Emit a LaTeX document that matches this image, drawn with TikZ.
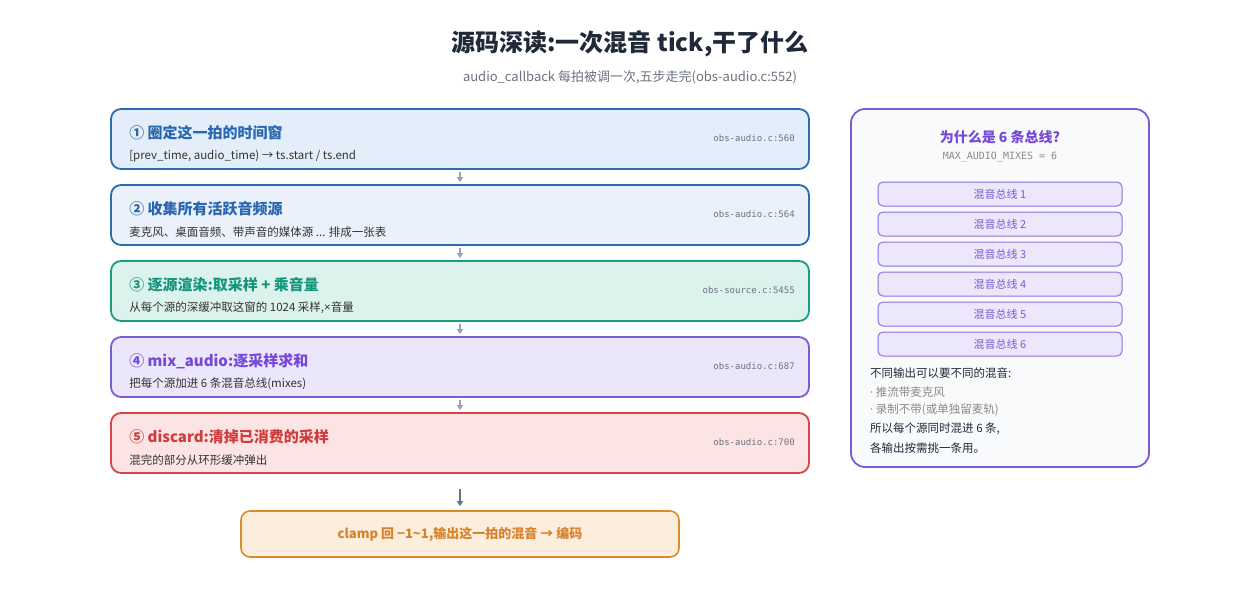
\documentclass[tikz,border=0pt]{standalone}
\usepackage{fontspec}
\setmainfont{Noto Sans CJK SC}
\newfontfamily\codefont{DejaVu Sans Mono}
\newfontfamily\latinfont{Noto Sans}
\usepackage{tikz}
\usetikzlibrary{shapes,arrows.meta}
\definecolor{inkdark}{HTML}{1F2937}
\definecolor{inkgray}{HTML}{6B7280}
\definecolor{inktext}{HTML}{333333}
\definecolor{inklight}{HTML}{8A8A8A}
\definecolor{arrowgray}{HTML}{94A3B8}
\definecolor{arrowdark}{HTML}{64748B}
\definecolor{blueline}{HTML}{2B6CB0}
\definecolor{bluetext}{HTML}{2866B0}
\definecolor{bluefill}{HTML}{E3EEFA}
\definecolor{bluefilltwo}{HTML}{EAF1FB}
\definecolor{tealline}{HTML}{1C9C82}
\definecolor{tealtext}{HTML}{14967C}
\definecolor{tealfill}{HTML}{DCF2EC}
\definecolor{purpline}{HTML}{7C5CD6}
\definecolor{purptext}{HTML}{7448D8}
\definecolor{purpfill}{HTML}{EBE6FA}
\definecolor{redline}{HTML}{D64545}
\definecolor{redtext}{HTML}{D03C3C}
\definecolor{redfill}{HTML}{FCE4E4}
\definecolor{orangeline}{HTML}{DD8A2C}
\definecolor{orangetext}{HTML}{D9822B}
\definecolor{orangefill}{HTML}{FCEEDD}
\definecolor{panelfill}{HTML}{F9FAFC}
\definecolor{busline}{HTML}{8E6FE3}
\definecolor{busfill}{HTML}{EDE7FB}
\definecolor{bustext}{HTML}{7B5BD0}
\tikzset{
  stepbox/.style={minimum width=698pt, minimum height=60pt, rounded corners=10pt, line width=1.8pt, inner sep=0pt},
  busbox/.style={minimum width=244pt, minimum height=24pt, rounded corners=5pt, line width=1pt, draw=busline, fill=busfill, text=bustext, inner sep=0pt, font=\fontsize{11}{13}\selectfont},
  steparrow/.style={-{Triangle[width=6pt,length=5pt]}, line width=1.6pt, draw=arrowgray, shorten <=2pt, shorten >=2pt},
  notetext/.style={anchor=west, inner sep=0pt, font=\fontsize{11.5}{14}\selectfont}
}
\newcommand{\mixstepnode}[8] {
\node at (460,#1) (#2) [stepbox, draw=#3, fill=#4] {};
\node at ([xshift=19pt, yshift=6pt]#2.west) (#2title) [anchor=west, inner sep=0pt, text=#5, font=\fontsize{15}{18}\selectfont\bfseries] {#6};
\node at ([xshift=19pt, yshift=-17pt]#2.west) (#2text) [anchor=west, inner sep=0pt, text=inktext, font=\fontsize{11.5}{14}\selectfont] {#7};
\node at ([xshift=-15pt, yshift=1pt]#2.east) (#2code) [anchor=east, inner sep=0pt, text=inkgray, font=\codefont\fontsize{9}{11}\selectfont] {#8};
}
\newcommand{\mixarrow}[2] {\draw [steparrow] (#1.south) -- (#2.north);}

\begin{document}
\begin{tikzpicture}[x=1pt, y=-1pt]
\useasboundingbox [fill=white] (0,0) rectangle (1260,600);

\node at (630,44) (title) [text=inkdark, font=\fontsize{24}{28}\selectfont\bfseries] {源码深读:一次混音 tick,干了什么};
\node at (630,77) (subtitle) [text=inkgray, font=\fontsize{13}{15}\selectfont] {audio\_callback 每拍被调一次,五步走完(obs-audio.c:552)};

\mixstepnode {139}{s1}{blueline}{bluefill}{bluetext}{① 圈定这一拍的时间窗}{[prev\_time, audio\_time) → ts.start / ts.end}{obs-audio.c:560};
\mixstepnode {215}{s2}{blueline}{bluefilltwo}{bluetext}{② 收集所有活跃音频源}{麦克风、桌面音频、带声音的媒体源 ... 排成一张表}{obs-audio.c:564};
\mixstepnode {291}{s3}{tealline}{tealfill}{tealtext}{③ 逐源渲染:取采样 + 乘音量}{从每个源的深缓冲取这窗的 1024 采样,{\latinfont ×}音量}{obs-source.c:5455};
\mixstepnode {367}{s4}{purpline}{purpfill}{purptext}{④ mix\_audio:逐采样求和}{把每个源加进 6 条混音总线(mixes)}{obs-audio.c:687};
\mixstepnode {443}{s5}{redline}{redfill}{redtext}{⑤ discard:清掉已消费的采样}{混完的部分从环形缓冲弹出}{obs-audio.c:700};

\node at (460,534) (clampout) [minimum width=438pt, minimum height=46pt, rounded corners=9pt, line width=1.6pt, draw=orangeline, fill=orangefill, text=orangetext, font=\fontsize{13}{15}\selectfont\bfseries] {clamp 回 −1\textasciitilde1,输出这一拍的混音 → 编码};

\mixarrow{s1}{s2};
\mixarrow{s2}{s3};
\mixarrow{s3}{s4};
\mixarrow{s4}{s5};
\draw [steparrow, draw=arrowdark, shorten <=15pt, shorten >=4pt] (s5.south) -- (clampout.north);

\node at (1000,288) (why) [minimum width=298pt, minimum height=358pt, rounded corners=14pt, line width=1.8pt, draw=purpline, fill=panelfill] {};
\node at (1000,137) (whytitle) [text=purptext, font=\fontsize{14}{17}\selectfont\bfseries] {为什么是 6 条总线?};
\node at (1000,157) (whycode) [text=inklight, font=\codefont\fontsize{10}{12}\selectfont] {MAX\_AUDIO\_MIXES = 6};
\foreach \i in {1,...,6}
  \node at (1000,{164+30*\i}) (bus\i) [busbox] {混音总线 \i};
\node at (870,373) (note1) [notetext, text=inkdark] {不同输出可以要不同的混音:};
\node at (870,392) (note2) [notetext, text=inklight] {{\latinfont ·} 推流带麦克风};
\node at (870,410) (note3) [notetext, text=inklight] {{\latinfont ·} 录制不带(或单独留麦轨)};
\node at (870,429) (note4) [notetext, text=inkdark] {所以每个源同时混进 6 条,};
\node at (870,448) (note5) [notetext, text=inkdark] {各输出按需挑一条用。};

\end{tikzpicture}
\end{document}
